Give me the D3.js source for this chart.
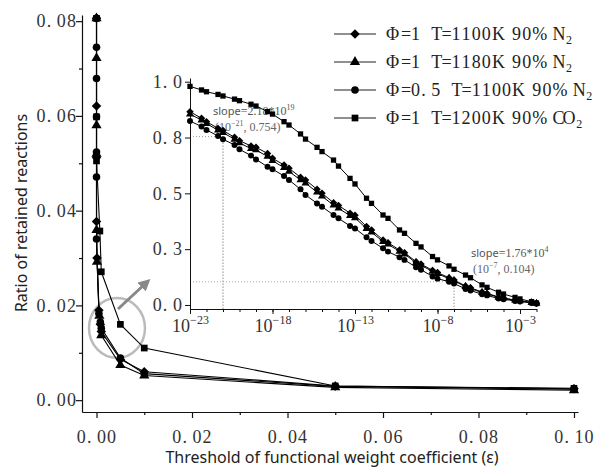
<!DOCTYPE html>
<html>
<head>
<meta charset="utf-8">
<script src="https://cdn.jsdelivr.net/npm/d3@7"></script>
<style>
body { margin:0; background:#fff; }
svg { display:block; }
</style>
</head>
<body>
<script>
// ---- main plot: [threshold, ratio of retained reactions]
var mainA = [[0,0.0806],[0,0.0621],[0,0.0512],[0,0.0377],[0.0001,0.0300],[0.0005,0.0190],[0.0008,0.0160],[0.001,0.0145],[0.005,0.0086],[0.01,0.0060],[0.05,0.0030],[0.1,0.0024]];
var mainB = [[0,0.0806],[0,0.0722],[0,0.0580],[0,0.0520],[0,0.0359],[0.0001,0.0292],[0.0006,0.0178],[0.001,0.0137],[0.005,0.0074],[0.01,0.0052],[0.05,0.0027],[0.1,0.0021]];
var mainC = [[0,0.0806],[0,0.0745],[0,0.0679],[0,0.0598],[0,0.0524],[0,0.0471],[0,0.0340],[0.0005,0.0183],[0.0008,0.0165],[0.001,0.0152],[0.005,0.0089],[0.01,0.0056],[0.05,0.0029],[0.1,0.0023]];
var mainD = [[0,0.0806],[0,0.0598],[0,0.0505],[0.0007,0.0357],[0.001,0.0271],[0.005,0.0160],[0.01,0.0110],[0.05,0.0030],[0.1,0.0025]];

var mainXTicks = [0,0.02,0.04,0.06,0.08,0.1];
var mainXMinor = [0.01,0.03,0.05,0.07,0.09];
var mainYTicks = [0,0.02,0.04,0.06,0.08];
var mainYMinor = [0.01,0.03,0.05,0.07];

// ---- inset: thresholds on log axis
var insetEps = [1e-23,5e-23,1e-22,5e-22,1e-21,5e-21,1e-20,5e-20,1e-19,5e-19,1e-18,5e-18,1e-17,5e-17,1e-16,5e-16,1e-15,5e-15,1e-14,5e-14,1e-13,5e-13,1e-12,5e-12,1e-11,5e-11,1e-10,5e-10,1e-9,5e-9,1e-8,5e-8,1e-7,5e-7,1e-6,5e-6,1e-5,5e-5,1e-4,5e-4,1e-3,5e-3,1e-2];
var insetA = [0.866,0.836,0.821,0.791,0.781,0.751,0.736,0.712,0.706,0.679,0.657,0.627,0.612,0.572,0.560,0.518,0.500,0.458,0.446,0.411,0.402,0.351,0.336,0.291,0.279,0.246,0.234,0.194,0.183,0.155,0.145,0.122,0.112,0.085,0.077,0.058,0.052,0.036,0.031,0.022,0.019,0.011,0.008];
var insetB = [0.855,0.828,0.812,0.783,0.772,0.742,0.726,0.700,0.694,0.665,0.646,0.615,0.598,0.560,0.546,0.505,0.487,0.447,0.433,0.400,0.390,0.342,0.326,0.284,0.272,0.240,0.228,0.189,0.178,0.150,0.140,0.118,0.108,0.082,0.074,0.055,0.050,0.034,0.030,0.021,0.018,0.010,0.007];
var insetC = [0.824,0.799,0.784,0.757,0.742,0.717,0.697,0.669,0.652,0.619,0.608,0.578,0.560,0.518,0.493,0.455,0.440,0.403,0.388,0.354,0.343,0.303,0.287,0.254,0.239,0.214,0.202,0.169,0.158,0.128,0.118,0.104,0.096,0.072,0.065,0.048,0.043,0.029,0.026,0.018,0.016,0.009,0.006];
var insetD = [0.979,0.963,0.955,0.943,0.936,0.922,0.915,0.899,0.891,0.866,0.855,0.821,0.806,0.766,0.743,0.706,0.687,0.649,0.622,0.567,0.542,0.478,0.455,0.403,0.388,0.336,0.321,0.276,0.260,0.217,0.202,0.175,0.160,0.134,0.122,0.090,0.079,0.057,0.049,0.034,0.027,0.015,0.009];

var insetXTicks = [1e-23,1e-18,1e-13,1e-8,1e-3];
var insetXExp = ["\u221223","\u221218","\u221213","\u22128","\u22123"];
var insetYTicks = [0,0.25,0.5,0.75,1];

var legendText = ["\u03A6=1 T=1100K 90% N","\u03A6=1 T=1180K 90% N","\u03A6=0.5 T=1100K 90% N","\u03A6=1 T=1200K 90% CO"];
var legendSub = ["2","2","2","2"];

var serif = "'Liberation Serif','Times New Roman',serif";
var sans = "'Noto Sans','Open Sans',sans-serif";
var cellW = 10.1;   // half-width cell, imitates the SimSun look

var svg = d3.select("body").append("svg").attr("width", 601).attr("height", 475);

// x positions for each glyph, one cell each (wide glyphs get a bit more)
function cells(str, x0) {
  var xs = [], xx = x0;
  for (var i=0;i<str.length;i++){
    xs.push(xx.toFixed(1));
    xx += str.charCodeAt(i) > 255 ? 15 : cellW;
  }
  return {xs: xs.join(" "), end: xx};
}
function cellLen(str){ return cells(str,0).end; }

function markerPath(k, size){
  if (k==0) return d3.symbol().type(d3.symbolSquare).size(size)();
  return d3.symbol().type([null,d3.symbolTriangle,d3.symbolCircle,d3.symbolSquare][k]).size(size)();
}
function markerRot(k){ return k==0 ? " rotate(45)" : ""; }

// ================= main plot =================
var x = d3.scaleLinear().domain([-0.00304, 0.10084]).range([82, 578]);
var y = d3.scaleLinear().domain([-0.0025, 0.0813]).range([412, 15]);

var gx = svg.append("g").attr("transform","translate(0,412)")
  .call(d3.axisBottom(x).tickValues(mainXTicks).tickSize(6).tickSizeOuter(0).tickFormat(d3.format(".2f")));
svg.append("g").attr("transform","translate(0,412)")
  .call(d3.axisBottom(x).tickValues(mainXMinor).tickSize(3).tickFormat(""))
  .select(".domain").remove();
var gy = svg.append("g").attr("transform","translate(82,0)")
  .call(d3.axisLeft(y).tickValues(mainYTicks).tickSize(6).tickSizeOuter(0).tickFormat(d3.format(".2f")));
svg.append("g").attr("transform","translate(82,0)")
  .call(d3.axisLeft(y).tickValues(mainYMinor).tickSize(3).tickFormat(""))
  .select(".domain").remove();

gx.selectAll("text").each(function(){
  var s = d3.select(this).text();
  d3.select(this).attr("text-anchor","start").attr("x", cells(s, -cellLen(s)/2).xs).attr("y", 18);
});
gy.selectAll("text").each(function(){
  var s = d3.select(this).text();
  d3.select(this).attr("text-anchor","start").attr("x", cells(s, -5-cellLen(s)).xs);
});

svg.selectAll(".domain, .tick line").attr("stroke","#111").attr("stroke-width",1.2);
svg.selectAll(".tick text").attr("font-family", serif).attr("font-size", 18).attr("fill","#333");

svg.append("text").attr("transform","translate(21,213) rotate(-90)")
  .attr("text-anchor","middle").attr("dominant-baseline","central")
  .attr("font-family", sans).attr("font-size", 16).attr("fill","#222")
  .text("Ratio of retained reactions");
svg.append("text").attr("x",332).attr("y",463)
  .attr("text-anchor","middle")
  .attr("font-family", sans).attr("font-size", 16).attr("fill","#222")
  .text("Threshold of functional weight coefficient (\u03B5)");

// zoom circle and arrow
svg.append("ellipse").attr("cx",117).attr("cy",328).attr("rx",28).attr("ry",30)
  .attr("fill","none").attr("stroke","#bbb").attr("stroke-width",2.5);
svg.append("defs").append("marker").attr("id","arr")
  .attr("viewBox","0 0 10 10").attr("refX",5).attr("refY",5)
  .attr("markerWidth",4).attr("markerHeight",4).attr("orient","auto")
  .append("path").attr("d","M0,0L10,5L0,10Z").attr("fill","#888");
svg.append("line").attr("x1",118).attr("y1",309).attr("x2",146).attr("y2",283)
  .attr("stroke","#888").attr("stroke-width",3).attr("marker-end","url(#arr)");

var mainSeries = [mainA, mainB, mainC, mainD];
var line = d3.line().x(function(d){return x(d[0]);}).y(function(d){return y(d[1]);});
mainSeries.forEach(function(ser, k){
  svg.append("path").datum(ser).attr("d", line)
    .attr("fill","none").attr("stroke","#000").attr("stroke-width",1.1);
});
mainSeries.forEach(function(ser, k){
  svg.selectAll(".m"+k).data(ser).enter().append("path")
    .attr("class","m"+k)
    .attr("transform", function(d){ return "translate("+x(d[0])+","+y(d[1])+")"+markerRot(k); })
    .attr("d", markerPath(k, 45))
    .attr("fill","#000");
});

// ================= inset =================
var xl = d3.scaleLog().domain([1e-23, 1e-2]).range([190, 536.5]);
var yl = d3.scaleLinear().domain([-0.018, 1.0166]).range([309, 78]);

// annotations sit under the data
var dot = "1,2";
svg.append("line").attr("x1",190).attr("x2",xl(1e-21)).attr("y1",yl(0.754)).attr("y2",yl(0.754))
  .attr("stroke","#999").attr("stroke-dasharray",dot);
svg.append("line").attr("x1",xl(1e-21)).attr("x2",xl(1e-21)).attr("y1",yl(0.754)).attr("y2",309)
  .attr("stroke","#555").attr("stroke-dasharray",dot);
svg.append("line").attr("x1",190).attr("x2",xl(1e-7)).attr("y1",yl(0.104)).attr("y2",yl(0.104))
  .attr("stroke","#aaa").attr("stroke-dasharray",dot);
svg.append("line").attr("x1",xl(1e-7)).attr("x2",xl(1e-7)).attr("y1",yl(0.104)).attr("y2",309)
  .attr("stroke","#666").attr("stroke-dasharray",dot);

function note(x0, y0, slope, sexp, pexp, pval){
  var t = svg.append("text").attr("x",x0).attr("y",y0).attr("fill","#555");
  t.append("tspan").attr("font-family",sans).attr("font-size",11).text("slope");
  t.append("tspan").attr("font-family",serif).attr("font-size",12).text("="+slope+"*10");
  t.append("tspan").attr("font-family",serif).attr("font-size",8).attr("dy",-5).text(sexp);
  var t2 = svg.append("text").attr("x",x0+2).attr("y",y0+16).attr("fill","#666")
    .attr("font-family",serif).attr("font-size",12);
  t2.append("tspan").text("(10");
  t2.append("tspan").attr("font-size",8).attr("dy",-5).text(pexp);
  t2.append("tspan").attr("dy",5).text(", "+pval+")");
}
note(213, 115, "2.18", "19", "\u221221", "0.754");
note(471, 257, "1.76", "4", "\u22127", "0.104");

var gxl = svg.append("g").attr("transform","translate(0,309)")
  .call(d3.axisBottom(xl).tickValues(insetXTicks).tickSize(5).tickSizeOuter(0).tickFormat(""));
svg.append("g").attr("transform","translate(0,309)")
  .call(d3.axisBottom(xl).tickValues(xl.ticks(21)).tickSize(3).tickFormat(""))
  .select(".domain").remove();
var gyl = svg.append("g").attr("transform","translate(190,0)")
  .call(d3.axisLeft(yl).tickValues(insetYTicks).tickSize(5).tickSizeOuter(0).tickFormat(d3.format(".1f")));

gxl.selectAll(".tick").each(function(d, i){
  var t = d3.select(this).append("text").attr("y",23).attr("text-anchor","middle")
    .attr("font-family",serif).attr("font-size",18).attr("fill","#333");
  t.append("tspan").text("10");
  t.append("tspan").attr("font-size",12).attr("dy",-8).text(insetXExp[i]);
});
gyl.selectAll("text").each(function(){
  var s = d3.select(this).text();
  d3.select(this).attr("text-anchor","start").attr("x", cells(s, -7-cellLen(s)).xs)
    .attr("font-family",serif).attr("font-size",18).attr("fill","#333");
});
svg.selectAll(".domain, .tick line").attr("stroke","#111");
gxl.selectAll(".domain, .tick line").attr("stroke-width",1);
gyl.selectAll(".domain, .tick line").attr("stroke-width",1);

var insetSeries = [insetA, insetB, insetC, insetD];
var lineL = d3.line().x(function(d,i){return xl(insetEps[i]);}).y(function(d){return yl(d);});
insetSeries.forEach(function(ser){
  svg.append("path").datum(ser).attr("d", lineL)
    .attr("fill","none").attr("stroke","#000").attr("stroke-width",1);
});
insetSeries.forEach(function(ser, k){
  svg.selectAll(".i"+k).data(ser).enter().append("path")
    .attr("class","i"+k)
    .attr("transform", function(d,i){ return "translate("+xl(insetEps[i])+","+yl(d)+")"+markerRot(k); })
    .attr("d", markerPath(k, 28))
    .attr("fill","#000");
});

// ================= legend =================
var legY = [34, 62, 90, 118];
legendText.forEach(function(s, k){
  var g = svg.append("g").attr("transform","translate(0,"+legY[k]+")");
  g.append("line").attr("x1",334).attr("x2",376).attr("stroke","#222").attr("stroke-width",1.2);
  g.append("path").attr("transform","translate(355,0)"+markerRot(k)).attr("d", markerPath(k, 45)).attr("fill","#000");
  var c = cells(s, 386);
  var t = g.append("text").attr("y",6).attr("font-family",serif).attr("font-size",18).attr("fill","#222");
  t.append("tspan").attr("x", c.xs).text(s);
  t.append("tspan").attr("x", c.end + 3.5).attr("dy",4).attr("font-size",12).text(legendSub[k]);
});
</script>
</body>
</html>
